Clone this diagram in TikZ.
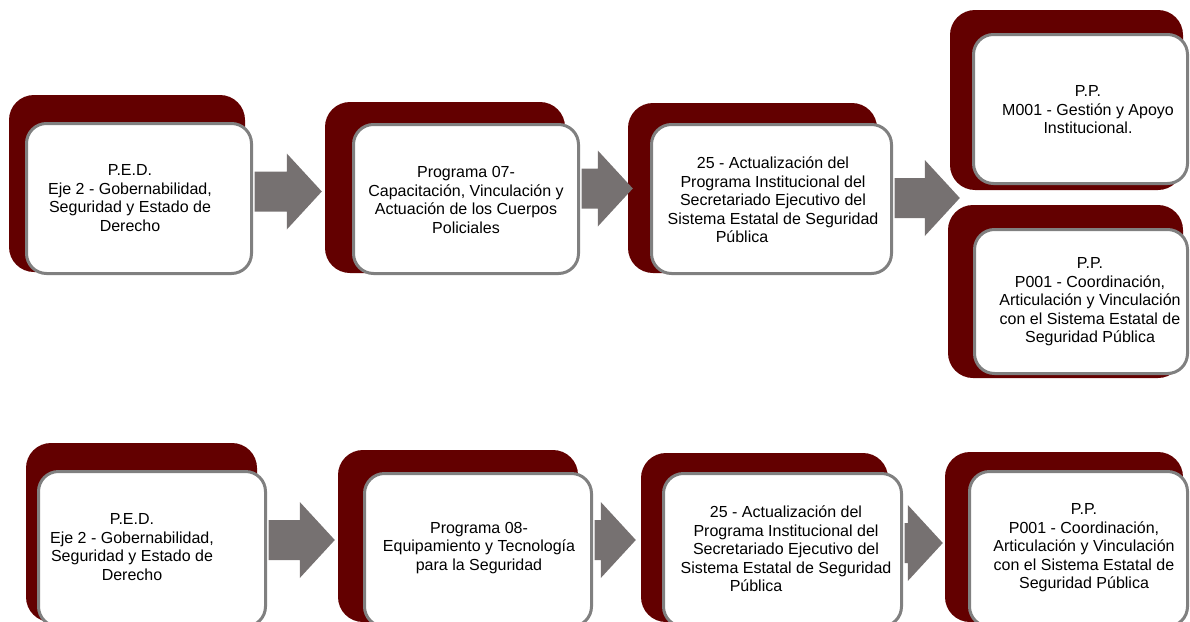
\documentclass[tikz,border=0pt]{standalone}
\usepackage{fontspec}
\setmainfont{Liberation Sans}
\usetikzlibrary{calc}
\definecolor{darkred}{RGB}{99,0,0}
\definecolor{boxline}{RGB}{128,128,128}
\definecolor{arrowgray}{RGB}{118,113,113}
\begin{document}
\begin{tikzpicture}[x=1pt,y=-1pt,
  back/.style={fill=darkred, rounded corners=25pt, inner sep=0pt},
  front/.style={fill=white, draw=boxline, line width=3pt, rounded corners=20pt, inner sep=0pt},
  txt/.style={align=center, font=\fontsize{16}{18.5}\selectfont, inner sep=0pt},
  bigarrow/.style={fill=arrowgray, to path={let \p1=(\tikztostart), \p2=(\tikztotarget) in
    (\x1,\y1+20pt) -- (\x2-35pt,\y1+20pt) -- (\x2-35pt,\y1+38pt) -- (\x2,\y1)
    -- (\x2-35pt,\y1-38pt) -- (\x2-35pt,\y1-20pt) -- (\x1,\y1-20pt) -- cycle}}]
\useasboundingbox (0,0) rectangle (1190,621);
\clip (0,0) rectangle (1190,621);

% dark back boxes
\node[back, minimum width=236pt, minimum height=177pt] (b1) at (127,183.5) {};
\node[back, minimum width=240pt, minimum height=171pt] (b2) at (445,187.5) {};
\node[back, minimum width=249pt, minimum height=170pt] (b3) at (752.5,188) {};
\node[back, minimum width=233pt, minimum height=180pt] (b4) at (1066.5,100) {};
\node[back, minimum width=235pt, minimum height=173pt] (b5) at (1065.5,291.5) {};
\node[back, minimum width=231pt, minimum height=179pt] (b6) at (141.5,532.5) {};
\node[back, minimum width=240pt, minimum height=172pt] (b7) at (458,536) {};
\node[back, minimum width=247pt, minimum height=169pt] (b8) at (764.5,537.5) {};
\node[back, minimum width=238pt, minimum height=170pt] (b9) at (1064,537) {};

% white front boxes
\node[front, minimum width=225pt, minimum height=150pt] (w1) at (139,198.5) {};
\node[front, minimum width=225pt, minimum height=149pt] (w2) at (466,199) {};
\node[front, minimum width=240pt, minimum height=149pt] (w3) at (771.5,199) {};
\node[front, minimum width=214pt, minimum height=149pt] (w4) at (1080.5,109) {};
\node[front, minimum width=213pt, minimum height=144pt] (w5) at (1081,301.5) {};
\node[front, minimum width=227pt, minimum height=155pt] (w6) at (152,549) {};
\node[front, minimum width=227pt, minimum height=153pt] (w7) at (478,550) {};
\node[front, minimum width=238pt, minimum height=153pt] (w8) at (782.5,550) {};
\node[front, minimum width=218pt, minimum height=155pt] (w9) at (1078.5,549) {};

% texts
\node[txt] (t1) at (130,198) {P.E.D.\\Eje 2 - Gobernabilidad,\\Seguridad y Estado de\\Derecho};
\node[txt] (t2) at (466,200) {Programa 07-\\Capacitación, Vinculación y\\Actuación de los Cuerpos\\Policiales};
\node[txt] (t3) at (773,200) {25 - Actualización del\\Programa Institucional del\\Secretariado Ejecutivo del\\Sistema Estatal de Seguridad\\Pública\hspace*{62pt}\mbox{}};
\node[txt] (t4) at (1088,110) {P.P.\\M001 - Gestión y Apoyo\\Institucional.};
\node[txt] (t5) at (1090,302) {P.P.\\P001 - Coordinación,\\Articulación y Vinculación\\con el Sistema Estatal de\\Seguridad Pública};
\node[txt] (t6) at (132,547) {P.E.D.\\Eje 2 - Gobernabilidad,\\Seguridad y Estado de\\Derecho};
\node[txt] (t7) at (479,548) {Programa 08-\\Equipamiento y Tecnología\\para la Seguridad};
\node[txt] (t8) at (786,549) {25 - Actualización del\\Programa Institucional del\\Secretariado Ejecutivo del\\Sistema Estatal de Seguridad\\Pública\hspace*{60pt}\mbox{}};
\node[txt] (t9) at (1084,548) {P.P.\\P001 - Coordinación,\\Articulación y Vinculación\\con el Sistema Estatal de\\Seguridad Pública};

% arrows
\path[bigarrow] ([xshift=1.5pt,yshift=7pt]w1.east) to ([xshift=-3pt]b2.west);
\path[bigarrow] ([xshift=1.5pt,yshift=10.5pt]w2.east) to ([xshift=5pt]b3.west);
\path[bigarrow] ([xshift=1.5pt,yshift=1pt]w3.east) to ([xshift=10pt]b4.west);
\path[bigarrow] ([xshift=1.5pt,yshift=9pt]w6.east) to ([xshift=-3pt]b7.west);
\path[bigarrow] ([xshift=1.5pt,yshift=10pt]w7.east) to ([xshift=-5pt]b8.west);
\path[bigarrow] ([xshift=1.5pt,yshift=7pt]w8.east) to ([xshift=-2pt]b9.west);
\end{tikzpicture}
\end{document}
